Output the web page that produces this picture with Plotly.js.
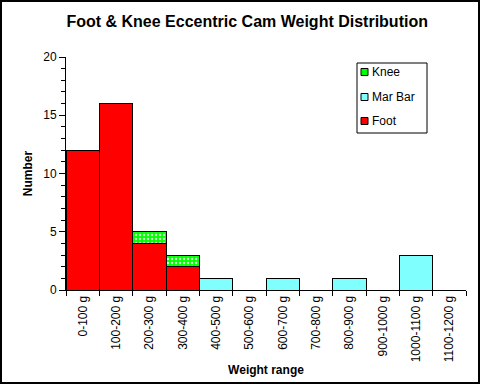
<!DOCTYPE html>
<html>
<head>
<meta charset="utf-8">
<script src="https://cdn.plot.ly/plotly-3.0.1.min.js"></script>
<style>
html,body{margin:0;padding:0;background:#fff;}
#wrap{position:relative;width:480px;height:384px;}
#chart{width:480px;height:384px;}
#frame{position:absolute;left:0;top:0;width:476px;height:380px;border:2px solid #000;pointer-events:none;}
</style>
</head>
<body>
<div id="wrap"><div id="chart"></div><div id="frame"></div></div>
<script>
const categories = ["0-100 g","100-200 g","200-300 g","300-400 g","400-500 g","500-600 g","600-700 g","700-800 g","800-900 g","900-1000 g","1000-1100 g","1100-1200 g"];
const foot   = [12, 16, 4, 2, 0, 0, 0, 0, 0, 0, 0, 0];
const marBar = [0, 0, 0, 0, 1, 0, 1, 0, 1, 0, 3, 0];
const knee   = [0, 0, 1, 1, 0, 0, 0, 0, 0, 0, 0, 0];
const seriesNames = ["Knee", "Mar Bar", "Foot"];
const seriesColors = ["#00ff00", "#80ffff", "#ff0000"];

const line = {color:'#000', width:1};
const traces = [
  {type:'bar', name:'Foot', x:categories, y:foot,
   marker:{color:'#ff0000', line:line}},
  {type:'bar', name:'Mar Bar', x:categories, y:marBar,
   marker:{color:'#80ffff', line:line}},
  {type:'bar', name:'Knee', x:categories, y:knee,
   marker:{color:'#00ff00', line:line,
     pattern:{shape:'.', fgcolor:'#c8ffc8', bgcolor:'#00ff00', size:4, solidity:0.3}}}
];

// plot area in pixels: left 66, right 466, top 57, bottom 290
const L = 66, R = 466, T = 57, B = 290;
const px = v => (v - L) / (R - L);
const py = v => (B - v) / (B - T);

const font = {family:'Arial, "Liberation Sans", sans-serif', color:'#000'};
const shapes = [
  {type:'rect', xref:'paper', yref:'paper', x0:px(357), x1:px(427), y0:py(63), y1:py(133),
   line:{color:'#000', width:1}, fillcolor:'#fff', layer:'above'}
];
const annotations = [];
const rowY = [72, 97, 121];
seriesNames.forEach((n, i) => {
  shapes.push({type:'rect', xref:'paper', yref:'paper',
    x0:px(361), x1:px(368), y0:py(rowY[i] + 3.5), y1:py(rowY[i] - 3.5),
    line:{color:'#000', width:1}, fillcolor:seriesColors[i], layer:'above'});
  annotations.push({xref:'paper', yref:'paper', x:px(370), y:py(rowY[i]),
    xanchor:'left', yanchor:'middle', showarrow:false, text:n,
    font:Object.assign({size:12}, font)});
});

const layout = {
  width:480, height:384,
  margin:{l:L, r:480 - R, t:T, b:384 - B},
  paper_bgcolor:'#fff', plot_bgcolor:'#fff',
  font:Object.assign({size:12}, font),
  barmode:'stack', bargap:0,
  showlegend:false,
  shapes:shapes, annotations:annotations,
  title:{text:'<b>Foot & Knee Eccentric Cam Weight Distribution</b>',
    font:Object.assign({size:16}, font),
    xref:'container', x:0.515, xanchor:'center',
    yref:'container', y:0.943, yanchor:'middle'},
  xaxis:{
    type:'category', tickson:'boundaries', ticks:'outside', ticklen:5, tickcolor:'#000',
    showline:true, linecolor:'#000', linewidth:1, showgrid:false, zeroline:false,
    tickangle:-90, tickfont:Object.assign({size:12}, font),
    title:{text:'<b>Weight range</b>', font:Object.assign({size:12}, font), standoff:4}
  },
  yaxis:{
    range:[0,20], dtick:5, ticks:'outside', ticklen:6, tickcolor:'#000',
    showline:true, linecolor:'#000', linewidth:1, showgrid:false, zeroline:false,
    minor:{dtick:1, ticks:'outside', ticklen:4, tickcolor:'#000', showgrid:false},
    tickfont:Object.assign({size:12}, font),
    title:{text:'<b>Number</b>', font:Object.assign({size:12}, font), standoff:8}
  }
};
Plotly.newPlot('chart', traces, layout, {displayModeBar:false, staticPlot:true});
</script>
</body>
</html>
